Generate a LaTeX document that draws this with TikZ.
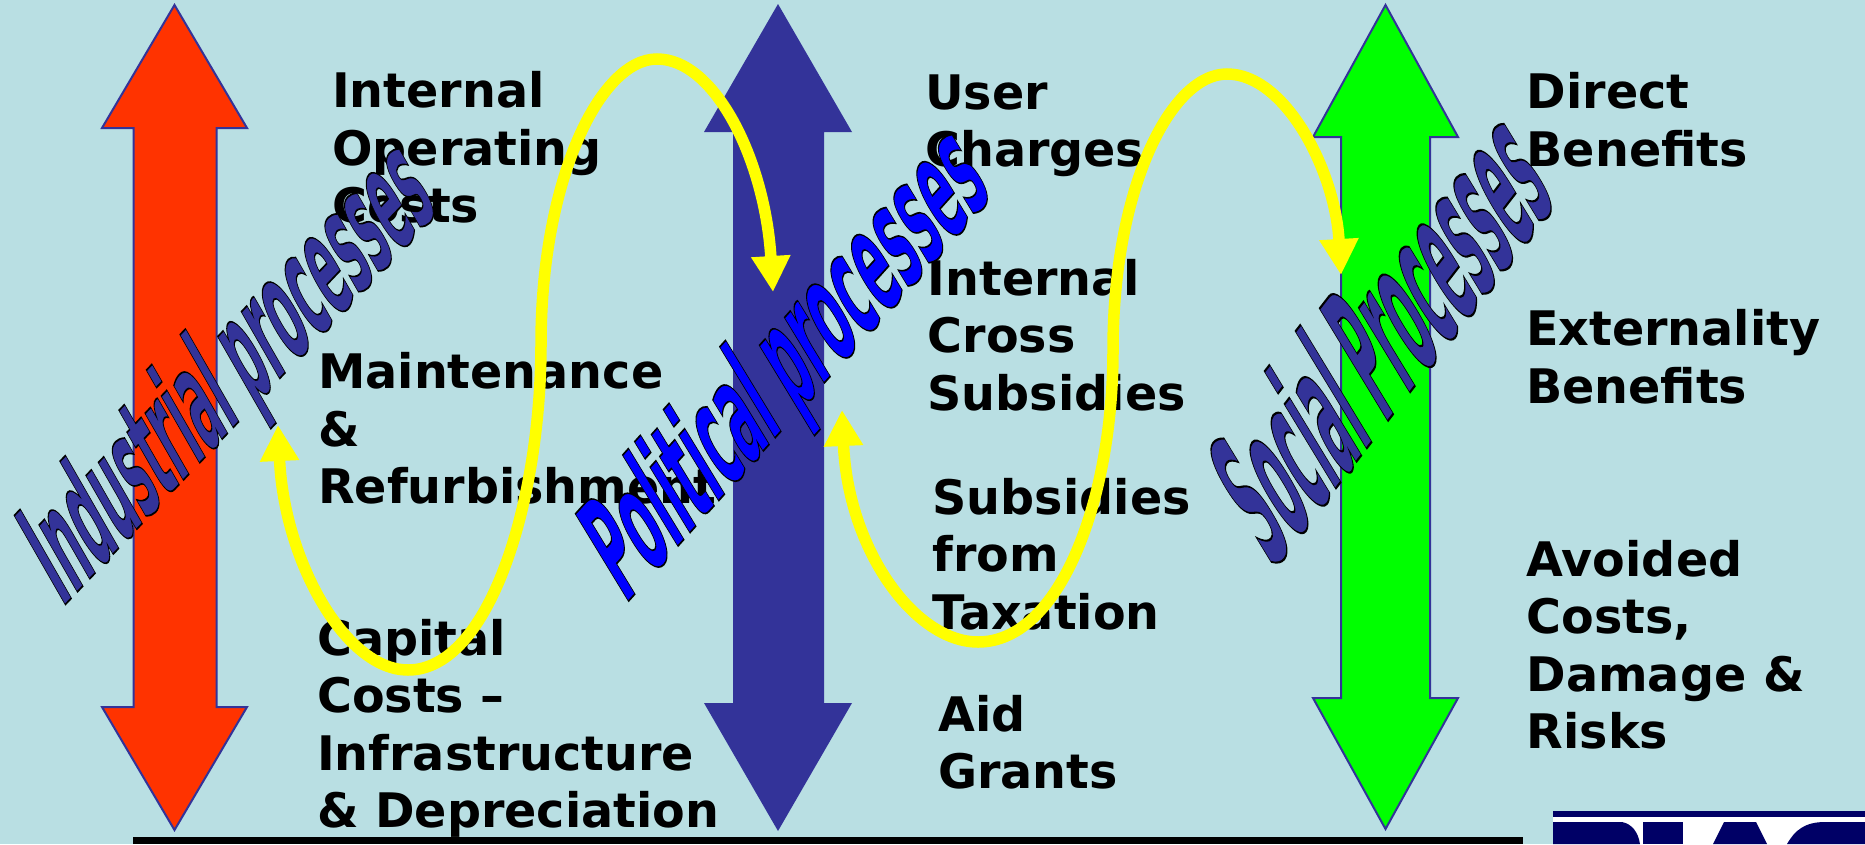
\documentclass[tikz,border=0pt]{standalone}
\usepackage{fontspec}
\setmainfont{DejaVu Sans}
\usetikzlibrary{arrows.meta}
\definecolor{bgc}{HTML}{B9DFE3}
\definecolor{redc}{HTML}{FF3300}
\definecolor{navyc}{HTML}{333399}
\definecolor{greenc}{HTML}{00FF00}
\definecolor{bluec}{HTML}{0000FF}
\definecolor{logoc}{HTML}{000066}
\definecolor{yelc}{rgb}{1,1,0}
\newcommand\lines[1]{\vtop{\baselineskip=57.5pt\lineskiplimit=-100pt\relax #1}}
\newcommand\wa[2]{\textcolor{#1}{\special{pdf:code 0 0 0 RG 0.5 w 2 Tr}\bfseries #2\special{pdf:code 0 Tr}}}
\tikzset{
  biarrow/.style={line width=2pt,draw=navyc,line join=miter},
  lab/.style={font=\fontsize{47.6}{57.5}\selectfont\bfseries,anchor=base west,inner sep=0pt,text=black},
  arttext/.style={font=\fontsize{40}{40}\selectfont,anchor=base west,inner sep=0pt,transform shape},
  loop/.style={draw=yelc,line width=11.5pt,{Triangle[length=36pt,width=37pt]}-{Triangle[length=36pt,width=37pt]},line cap=butt}
}
\begin{document}
\begin{tikzpicture}[x=1pt,y=-1pt]
\useasboundingbox (0,0) rectangle (1865,844);
\fill[bgc] (0,0) rectangle (1865,844);
% double arrows
\draw[biarrow,fill=redc] (174.5,5) -- (247,128) -- (216.5,128) -- (216.5,707) -- (247,707) -- (174.5,830) -- (102,707) -- (133.5,707) -- (133.5,128) -- (102,128) -- cycle;
\fill[navyc] (778,4) -- (852,132) -- (824,132) -- (824,703) -- (852,703) -- (778,831) -- (704,703) -- (733,703) -- (733,132) -- (704,132) -- cycle;
\draw[biarrow,fill=greenc] (1385.5,5) -- (1458,137) -- (1430,137) -- (1430,698) -- (1458,698) -- (1385.5,829) -- (1313,698) -- (1341,698) -- (1341,137) -- (1313,137) -- cycle;
% bottom rule and logo
\fill[black] (133,837) rectangle (1523,844);
\fill[white] (1553,811) rectangle (1865,844);
\fill[logoc] (1553,811) rectangle (1865,817);
\fill[logoc] (1553,822) -- (1622,822) .. controls (1632,824) and (1638,832) .. (1640,844) -- (1553,844) -- cycle;
\fill[logoc] (1643,822) rectangle (1683,844);
\fill[logoc] (1724,822) -- (1756,822) -- (1767,844) -- (1713,844) -- cycle;
\fill[logoc] (1787,844) .. controls (1795,830) and (1805,822) .. (1825,822) -- (1865,822) -- (1865,844) -- cycle;
% labels
\node[lab] (t1) at (332,107.5) {\lines{\hbox{Internal}\hbox{Operating}\hbox{Costs}}};
\node[lab] (t2) at (318,388.5) {\lines{\hbox{Maintenance}\hbox{\&}\hbox{Refurbishment}}};
\node[lab] (t3) at (317,655) {\lines{\hbox{Capital}\hbox{Costs –}\hbox{Infrastructure}\hbox{\& Depreciation}}};
\node[lab] (t4) at (925,109) {\lines{\hbox{User}\hbox{Charges}}};
\node[lab] (t5) at (927.5,295) {\lines{\hbox{Internal}\hbox{Cross}\hbox{Subsidies}}};
\node[lab] (t6) at (932.5,514) {\lines{\hbox{Subsidies}\hbox{from}\hbox{Taxation}}};
\node[lab] (t7) at (938,731) {\lines{\hbox{Aid}\hbox{Grants}}};
\node[lab] (t8) at (1526.5,108.5) {\lines{\hbox{Direct}\hbox{Benefits}}};
\node[lab] (t9) at (1526,345.5) {\lines{\hbox{Externality}\hbox{Benefits}}};
\node[lab] (t10) at (1526.5,576) {\lines{\hbox{Avoided}\hbox{Costs,}\hbox{Damage \&}\hbox{Risks}}};
% word art
\begin{scope}[cm={0.825,0.87,-1.75,3.05,(62,608)}]
\node[arttext] (w1) at (0,0) {\wa{navyc}{Industrial processes}};
\end{scope}
\begin{scope}[cm={0.875,0.975,-1.82,2.99,(625,605)}]
\node[arttext] (w2) at (0,0) {\wa{bluec}{Political processes}};
\end{scope}
\begin{scope}[cm={0.76,0.985,-2.34,3.85,(1272,571)}]
\node[arttext] (w3) at (0,0) {\wa{navyc}{Social Processes}};
\end{scope}
% yellow loops
\coordinate (a0) at (278,425);
\coordinate (a1) at (408,670);
\coordinate (a2) at (541,344);
\coordinate (a3) at (657,59);
\coordinate (a4) at (773,292);
\draw[loop] (a0) .. controls (284,560) and (345,670) .. (a1) .. controls (490,670) and (541,500) .. (a2) .. controls (541,180) and (600,59) .. (a3) .. controls (715,59) and (765,160) .. (a4);
\coordinate (b0) at (842,410);
\coordinate (b1) at (978,642);
\coordinate (b2) at (1113,350);
\coordinate (b3) at (1227,74);
\coordinate (b4) at (1341,275);
\draw[loop] (b0) .. controls (848,550) and (915,642) .. (b1) .. controls (1060,642) and (1113,500) .. (b2) .. controls (1113,190) and (1170,74) .. (b3) .. controls (1285,74) and (1335,170) .. (b4);
\end{tikzpicture}
\end{document}
